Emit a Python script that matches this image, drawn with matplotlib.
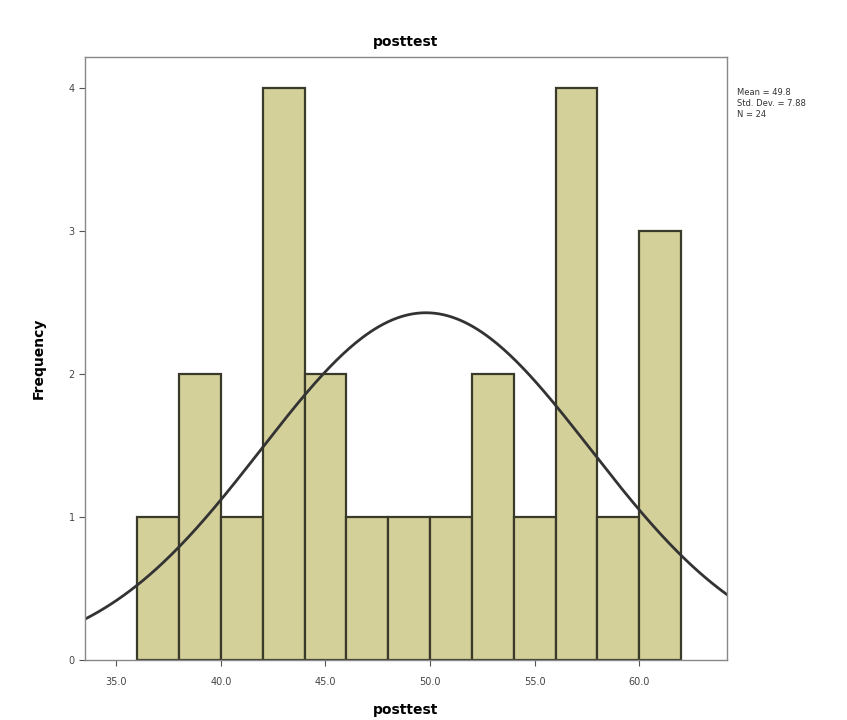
import numpy as np
import matplotlib
matplotlib.use("Agg")
import matplotlib.pyplot as plt

# histogram bins (posttest scores) and frequencies
bin_edges = [36, 38, 40, 42, 44, 46, 48, 50, 52, 54, 56, 58, 60, 62]
counts = [1, 2, 1, 4, 2, 1, 1, 1, 2, 1, 4, 1, 3]
x_ticks = [35, 40, 45, 50, 55, 60]
x_tick_labels = ["35.0", "40.0", "45.0", "50.0", "55.0", "60.0"]
y_ticks = [0, 1, 2, 3, 4]

mean = 49.8
std = 7.88
n = sum(counts)

fig = plt.figure(figsize=(8.47, 7.2), dpi=100)
ax = fig.add_axes([85/847, 1 - 660/720, (727-85)/847, (660-57)/720])

left = bin_edges[:-1]
widths = np.diff(bin_edges)
ax.bar(left, counts, width=widths, align="edge", color="#d4d09a",
       edgecolor="#3a3a2a", linewidth=1.6)

# normal curve
xs = np.linspace(33.5, 64.2, 300)
bw = widths[0]
ys = n * bw / (std * np.sqrt(2 * np.pi)) * np.exp(-0.5 * ((xs - mean) / std) ** 2)
ax.plot(xs, ys, color="#333333", linewidth=2)

ax.set_xlim(33.5, 64.2)
ax.set_ylim(0, 4.22)
ax.set_xticks(x_ticks)
ax.set_xticklabels(x_tick_labels, fontsize=7, color="#444444")
ax.set_yticks(y_ticks)
ax.set_yticklabels([str(v) for v in y_ticks], fontsize=7, color="#444444")
ax.tick_params(direction="out", length=4, color="#555555")
ax.tick_params(axis="x", pad=8)
for s in ax.spines.values():
    s.set_color("#888888")
    s.set_linewidth(1)

ax.set_title("posttest", fontsize=10, fontweight="bold", pad=8)
ax.set_xlabel("posttest", fontsize=10, fontweight="bold", labelpad=12)
ax.set_ylabel("Frequency", fontsize=10, fontweight="bold", labelpad=16)

fig.text(737/847, 1 - 88/720,
         "Mean = %.1f\nStd. Dev. = %.2f\nN = %d" % (mean, std, n),
         fontsize=6, va="top", ha="left", color="#333333", linespacing=1.3)

fig.savefig("out.png", dpi=100)
